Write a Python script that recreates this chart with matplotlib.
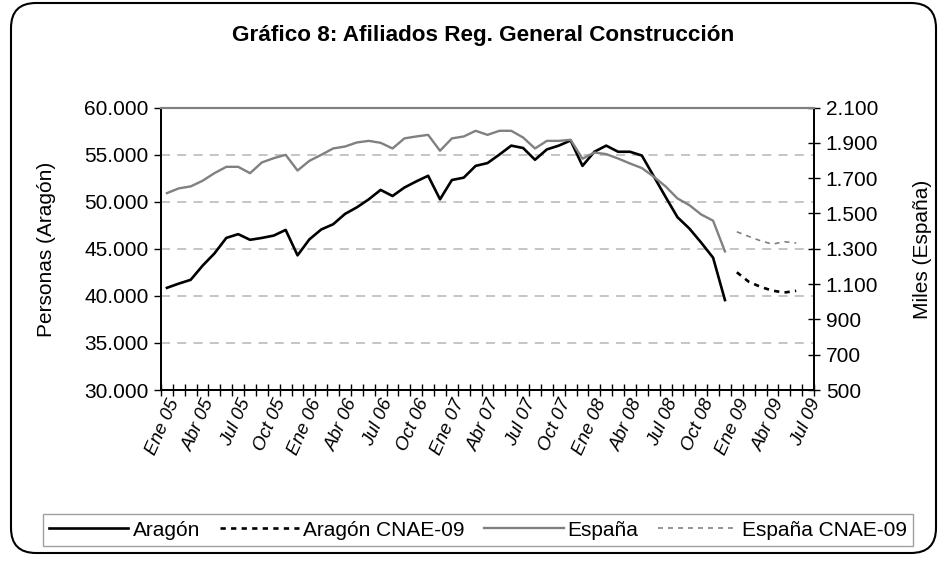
import matplotlib
matplotlib.use("Agg")
import matplotlib.pyplot as plt
from matplotlib.patches import FancyBboxPatch
from matplotlib.transforms import IdentityTransform, ScaledTranslation

plt.rcParams["font.family"] = ["Liberation Sans", "DejaVu Sans"]

# monthly categories Ene 05 .. Jul 09
meses = ["Ene", "Feb", "Mar", "Abr", "May", "Jun", "Jul", "Ago", "Sep", "Oct", "Nov", "Dic"]
categorias = [f"{meses[m]} {a:02d}" for a in range(5, 10) for m in range(12)][:55]

# Aragón, personas (Ene 05 - Dic 08)
aragon = [40850, 41300, 41700, 43200, 44500, 46150, 46550, 45950, 46150, 46400, 47000, 44300,
          46000, 47050, 47600, 48700, 49400, 50250, 51250, 50600, 51500, 52150, 52750, 50250,
          52300, 52550, 53800, 54100, 55000, 55950, 55700, 54450, 55550, 55950, 56500, 53800,
          55300, 55950, 55300, 55300, 54900, 52700, 50500, 48350, 47150, 45650, 44050, 39550]
# Aragón CNAE-09 (Ene 09 - Jun 09)
aragon_cnae = [42500, 41500, 40950, 40550, 40350, 40530]

# España, miles (Ene 05 - Dic 08)
espana = [1615, 1642, 1653, 1685, 1728, 1764, 1764, 1728, 1789, 1813, 1832, 1743,
          1798, 1832, 1868, 1879, 1902, 1911, 1900, 1868, 1925, 1936, 1945, 1855,
          1925, 1936, 1968, 1945, 1968, 1968, 1930, 1868, 1911, 1911, 1917, 1810,
          1845, 1836, 1811, 1783, 1757, 1708, 1653, 1585, 1547, 1494, 1459, 1285]
# España CNAE-09 (Ene 09 - Jun 09)
espana_cnae = [1396, 1370, 1345, 1326, 1340, 1332]


def miles(v):
    return f"{v:,.0f}".replace(",", ".")


def plot_chart():
    fig = plt.figure(figsize=(9.46, 5.62), dpi=100)
    ax = fig.add_axes([161 / 946, 1 - 390 / 562, 653 / 946, 282.5 / 562])
    ax2 = ax.twinx()

    x1 = list(range(len(aragon)))
    x2 = list(range(len(aragon), len(aragon) + len(aragon_cnae)))

    l1, = ax.plot(x1, aragon, color="black", lw=1.9, label="Aragón")
    l2, = ax.plot(x2, aragon_cnae, color="black", lw=1.9, ls=(0, (2, 2)), label="Aragón CNAE-09")
    l3, = ax2.plot(x1, espana, color="#808080", lw=1.7, label="España")
    l4, = ax2.plot(x2, espana_cnae, color="#808080", lw=1.2, ls=(0, (3, 3)), label="España CNAE-09")

    ax.set_xlim(-0.5, 54.5)
    ax.set_ylim(30000, 60000)
    ax2.set_ylim(500, 2100)

    ax.set_yticks(range(30000, 60001, 5000))
    ax.set_yticklabels([miles(v) for v in range(30000, 60001, 5000)], fontsize=15)
    ax2.set_yticks(range(500, 2101, 200))
    ax2.set_yticklabels([miles(v) for v in range(500, 2101, 200)], fontsize=15)

    for v in range(35000, 60000, 5000):
        ax.axhline(v, color="#c0c0c0", lw=1.3, ls=(0, (5, 4)), zorder=0)

    # category labels every 3 months, drawn as rotated text below the axis
    ax.set_xticks([i - 0.5 for i in range(56)])
    ax.set_xticklabels([])
    ax.tick_params(axis="x", direction="inout", length=8, width=1)
    shift = ScaledTranslation(8 / 100, -10 / 100, fig.dpi_scale_trans)
    for i in range(0, 55, 3):
        ax.text(i, 0, categorias[i], transform=ax.get_xaxis_transform() + shift,
                rotation=66, fontsize=13.5, style="italic", ha="right", va="center",
                rotation_mode="anchor")

    ax.tick_params(axis="y", direction="out", length=5, width=1, pad=4)
    ax2.tick_params(axis="y", direction="inout", length=9, width=1, pad=4)

    for a in (ax, ax2):
        a.spines["top"].set_color("#808080")
        a.spines["top"].set_linewidth(1.5)
        for s in ("left", "right", "bottom"):
            a.spines[s].set_linewidth(1.3)

    fig.text(47 / 946, 1 - 249 / 562, "Personas (Aragón)", rotation=90,
             ha="center", va="center", fontsize=15)
    fig.text(922 / 946, 1 - 249 / 562, "Miles (España)", rotation=90,
             ha="center", va="center", fontsize=15)
    fig.text(483 / 946, 1 - 35 / 562, "Gráfico 8: Afiliados Reg. General Construcción",
             ha="center", va="center", fontsize=16.2, fontweight="bold")

    leg = fig.legend(handles=[l1, l2, l3, l4], loc="center", ncol=4,
                     bbox_to_anchor=(478 / 946, 1 - 530 / 562), fontsize=15,
                     handlelength=3.8, handletextpad=0.2, columnspacing=0.95,
                     fancybox=False, framealpha=1, borderpad=0.3)
    leg.get_frame().set_edgecolor("#a0a0a0")
    leg.get_frame().set_linewidth(1)

    box = FancyBboxPatch((11, 9), 925, 550, boxstyle="round,pad=0,rounding_size=25",
                         transform=IdentityTransform(), facecolor="none",
                         edgecolor="black", lw=1.5)
    fig.patches.append(box)

    fig.savefig("out.png", dpi=100)


plot_chart()
